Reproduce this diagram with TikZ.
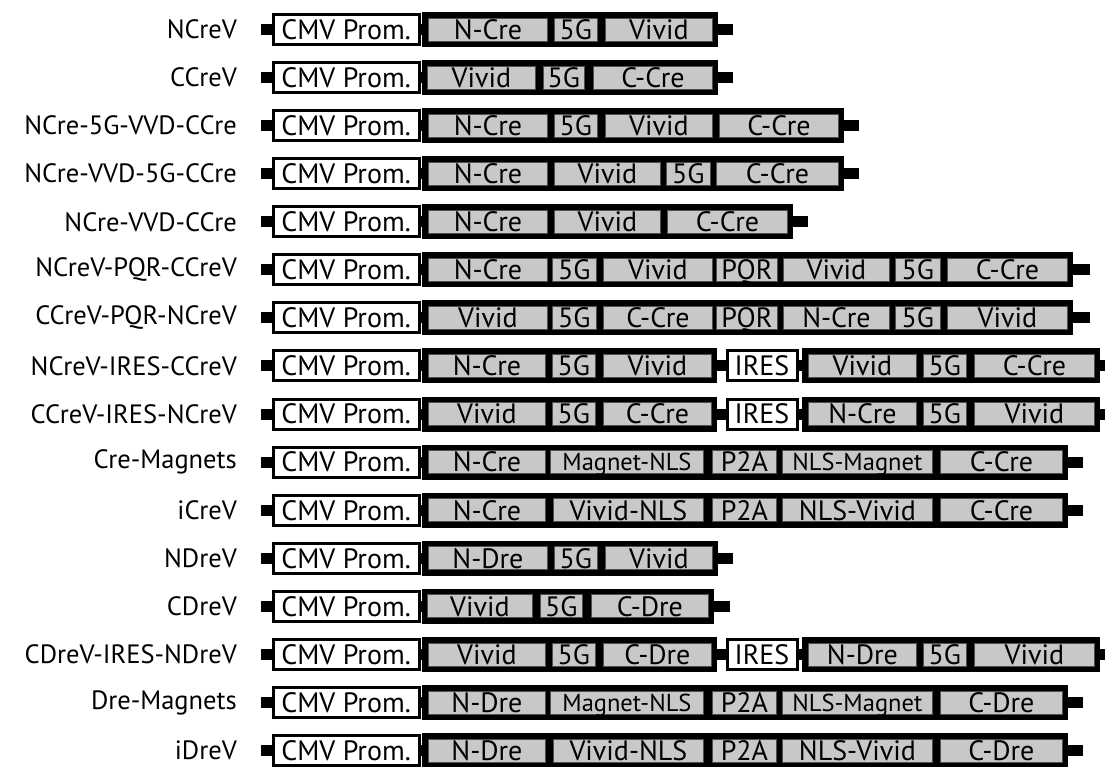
\documentclass[tikz,border=0pt]{standalone}
\usepackage{fontspec}
\setmainfont{PT Sans}
\definecolor{boxgray}{HTML}{C8C8C8}
\definecolor{boxline}{HTML}{505050}
\tikzset{
  lbl/.style={anchor=east, inner sep=0pt, font=\fontsize{26.5}{26.5}\selectfont},
  cmv/.style={draw=black, line width=3pt, fill=white, anchor=west, inner sep=0pt,
    minimum width=146pt, minimum height=30pt, text height=19.6pt, text depth=0pt,
    font=\fontsize{28}{28}\selectfont},
  iresbox/.style={cmv, minimum width=70pt},
  blk/.style={fill=black, anchor=west, inner sep=0pt, minimum height=35pt},
  gbox/.style={draw=boxline, line width=0.8pt, fill=boxgray, anchor=west, inner sep=0pt,
    minimum height=23pt, text height=19.6pt, text depth=0pt,
    font=\fontsize{28}{28}\selectfont},
  gsmall/.style={gbox, font=\fontsize{24.5}{24.5}\selectfont, text height=17.2pt},
  stubline/.style={line width=11pt, black},
}
% row start: name, index, label
\newcommand\mkrow[3]{%
  \pgfmathsetmacro\ry{29.5+48.07*(#2-1)}%
  \node[lbl] (#1l) at (237,\ry) {#3};%
  \node[cmv] (#1c) at (271.5,\ry) {CMV Prom.};%
  \coordinate (#1s) at (261,\ry);%
  \draw[stubline] (#1s) -- (#1c.west);%
}
% black block: name, x1, x2
\newcommand\mkblk[3]{%
  \node[blk, minimum width={(#3-#2)*1pt}] (#1) at (#2,\ry) {};%
}
% gray box: name, x1, x2, text
\newcommand\gb[4]{%
  \node[gbox, minimum width={(#3-#2-0.8)*1pt}] (#1) at (#2+0.4,\ry) {#4};%
}
\newcommand\gbs[4]{%
  \node[gsmall, minimum width={(#3-#2-0.8)*1pt}] (#1) at (#2+0.4,\ry) {#4};%
}
% end stub: block name, end x
\newcommand\mkend[2]{%
  \coordinate (#1e) at (#2,\ry);%
  \draw[stubline] (#1.east) -- (#1e);%
}
\begin{document}
\begin{tikzpicture}[x=1pt,y=-1pt]
\useasboundingbox (0,0) rectangle (1105,766);
\clip (0,0) rectangle (1105,766);
\fill[white] (0,0) rectangle (1105,766);

% 1 NCreV
\mkrow{a}{1}{NCreV}
\mkblk{ab}{422}{718}
\draw[stubline] (ac.east) -- (ab.west);
\gb{a1}{428}{547}{N-Cre}\gb{a2}{554}{597}{5G}\gb{a3}{605}{712}{Vivid}
\mkend{ab}{733}

% 2 CCreV
\mkrow{b}{2}{CCreV}
\mkblk{bb}{422}{718}
\draw[stubline] (bc.east) -- (bb.west);
\gb{b1}{427}{535}{Vivid}\gb{b2}{543}{584}{5G}\gb{b3}{593}{712}{C-Cre}
\mkend{bb}{733}

% 3 NCre-5G-VVD-CCre
\mkrow{c}{3}{NCre-5G-VVD-CCre}
\mkblk{cb}{422}{844}
\draw[stubline] (cc.east) -- (cb.west);
\gb{c1}{428}{547}{N-Cre}\gb{c2}{554}{597}{5G}\gb{c3}{605}{712}{Vivid}\gb{c4}{719}{838}{C-Cre}
\mkend{cb}{859}

% 4 NCre-VVD-5G-CCre
\mkrow{d}{4}{NCre-VVD-5G-CCre}
\mkblk{db}{422}{844}
\draw[stubline] (dc.east) -- (db.west);
\gb{d1}{428}{547}{N-Cre}\gb{d2}{554}{660}{Vivid}\gb{d3}{666}{710}{5G}\gb{d4}{716}{838}{C-Cre}
\mkend{db}{859}

% 5 NCre-VVD-CCre
\mkrow{e}{5}{NCre-VVD-CCre}
\mkblk{eb}{422}{793}
\draw[stubline] (ec.east) -- (eb.west);
\gb{e1}{428}{547}{N-Cre}\gb{e2}{554}{660}{Vivid}\gb{e3}{667}{787}{C-Cre}
\mkend{eb}{808}

% 6 NCreV-PQR-CCreV
\mkrow{f}{6}{NCreV-PQR-CCreV}
\mkblk{fb}{422}{1073}
\draw[stubline] (fc.east) -- (fb.west);
\gb{f1}{428}{547}{N-Cre}\gb{f2}{552}{596}{5G}\gb{f3}{603}{712}{Vivid}\gb{f4}{716}{777}{PQR}
\gb{f5}{783}{889}{Vivid}\gb{f6}{895}{940}{5G}\gb{f7}{947}{1067}{C-Cre}
\mkend{fb}{1090}

% 7 CCreV-PQR-NCreV
\mkrow{g}{7}{CCreV-PQR-NCreV}
\mkblk{gb}{422}{1073}
\draw[stubline] (gc.east) -- (gb.west);
\gb{g1}{428}{547}{Vivid}\gb{g2}{552}{596}{5G}\gb{g3}{603}{712}{C-Cre}\gb{g4}{716}{777}{PQR}
\gb{g5}{783}{889}{N-Cre}\gb{g6}{895}{940}{5G}\gb{g7}{947}{1067}{Vivid}
\mkend{gb}{1090}

% 8 NCreV-IRES-CCreV
\mkrow{h}{8}{NCreV-IRES-CCreV}
\mkblk{hb}{422}{717}
\draw[stubline] (hc.east) -- (hb.west);
\gb{h1}{428}{545}{N-Cre}\gb{h2}{552}{595}{5G}\gb{h3}{603}{711}{Vivid}
\node[iresbox] (hi) at (725.5,\ry) {IRES};
\draw[stubline] (hb.east) -- (hi.west);
\mkblk{hbb}{802}{1100}
\draw[stubline] (hi.east) -- (hbb.west);
\gb{h4}{808}{916}{Vivid}\gb{h5}{923}{966}{5G}\gb{h6}{974}{1094}{C-Cre}
\mkend{hbb}{1115}

% 9 CCreV-IRES-NCreV
\mkrow{i}{9}{CCreV-IRES-NCreV}
\mkblk{ib}{422}{717}
\draw[stubline] (ic.east) -- (ib.west);
\gb{i1}{428}{545}{Vivid}\gb{i2}{552}{595}{5G}\gb{i3}{603}{711}{C-Cre}
\node[iresbox] (ii) at (725.5,\ry) {IRES};
\draw[stubline] (ib.east) -- (ii.west);
\mkblk{ibb}{802}{1100}
\draw[stubline] (ii.east) -- (ibb.west);
\gb{i4}{808}{916}{N-Cre}\gb{i5}{923}{966}{5G}\gb{i6}{974}{1094}{Vivid}
\mkend{ibb}{1115}

% 10 Cre-Magnets
\mkrow{j}{10}{Cre-Magnets}
\mkblk{jb}{422}{1068}
\draw[stubline] (jc.east) -- (jb.west);
\gb{j1}{428}{545}{N-Cre}\gbs{j2}{550}{703}{Magnet-NLS}\gb{j3}{712}{776}{P2A}
\gbs{j4}{782}{932}{NLS-Magnet}\gb{j5}{940}{1062}{C-Cre}
\mkend{jb}{1083}

% 11 iCreV
\mkrow{k}{11}{iCreV}
\mkblk{kb}{422}{1068}
\draw[stubline] (kc.east) -- (kb.west);
\gb{k1}{428}{545}{N-Cre}\gb{k2}{553}{703}{Vivid-NLS}\gb{k3}{712}{776}{P2A}
\gb{k4}{782}{932}{NLS-Vivid}\gb{k5}{940}{1062}{C-Cre}
\mkend{kb}{1083}

% 12 NDreV
\mkrow{l}{12}{NDreV}
\mkblk{lb}{422}{718}
\draw[stubline] (lc.east) -- (lb.west);
\gb{l1}{428}{547}{N-Dre}\gb{l2}{554}{597}{5G}\gb{l3}{605}{712}{Vivid}
\mkend{lb}{733}

% 13 CDreV
\mkrow{m}{13}{CDreV}
\mkblk{mb}{422}{714}
\draw[stubline] (mc.east) -- (mb.west);
\gb{m1}{427}{532}{Vivid}\gb{m2}{540}{582}{5G}\gb{m3}{591}{708}{C-Dre}
\mkend{mb}{730}

% 14 CDreV-IRES-NDreV
\mkrow{n}{14}{CDreV-IRES-NDreV}
\mkblk{nb}{422}{717}
\draw[stubline] (nc.east) -- (nb.west);
\gb{n1}{428}{545}{Vivid}\gb{n2}{552}{595}{5G}\gb{n3}{603}{711}{C-Dre}
\node[iresbox] (ni) at (725.5,\ry) {IRES};
\draw[stubline] (nb.east) -- (ni.west);
\mkblk{nbb}{802}{1100}
\draw[stubline] (ni.east) -- (nbb.west);
\gb{n4}{808}{916}{N-Dre}\gb{n5}{923}{966}{5G}\gb{n6}{974}{1094}{Vivid}
\mkend{nbb}{1115}

% 15 Dre-Magnets
\mkrow{o}{15}{Dre-Magnets}
\mkblk{ob}{422}{1068}
\draw[stubline] (oc.east) -- (ob.west);
\gb{o1}{428}{545}{N-Dre}\gbs{o2}{550}{703}{Magnet-NLS}\gb{o3}{712}{776}{P2A}
\gbs{o4}{782}{932}{NLS-Magnet}\gb{o5}{940}{1062}{C-Dre}
\mkend{ob}{1083}

% 16 iDreV
\mkrow{p}{16}{iDreV}
\mkblk{pb}{422}{1068}
\draw[stubline] (pc.east) -- (pb.west);
\gb{p1}{428}{545}{N-Dre}\gb{p2}{553}{703}{Vivid-NLS}\gb{p3}{712}{776}{P2A}
\gb{p4}{782}{932}{NLS-Vivid}\gb{p5}{940}{1062}{C-Dre}
\mkend{pb}{1083}
\end{tikzpicture}
\end{document}
